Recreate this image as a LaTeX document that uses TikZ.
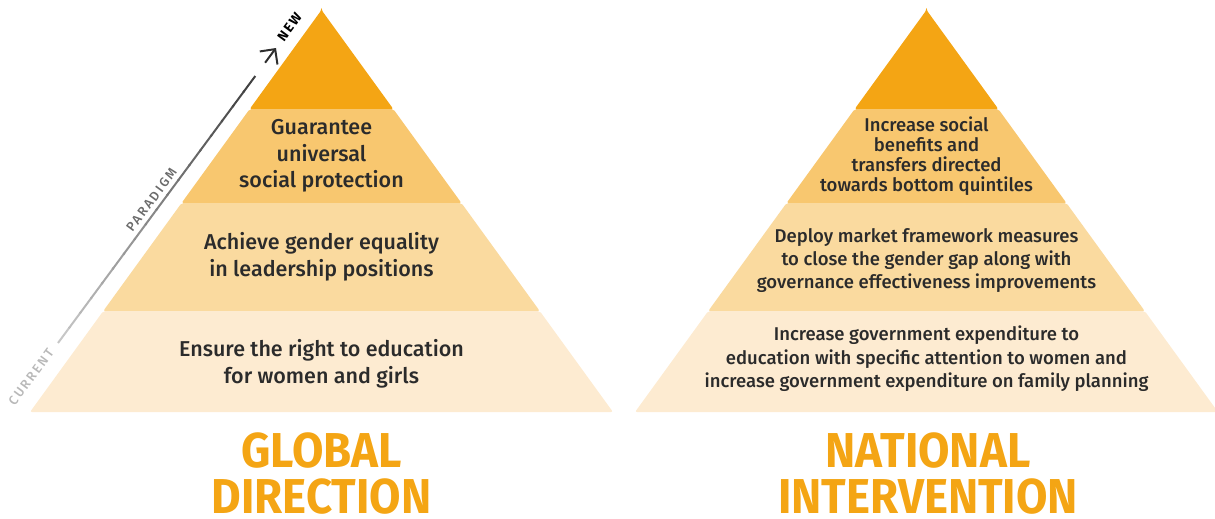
\documentclass[tikz,border=0pt]{standalone}
\usepackage{fontspec}
\setmainfont{Fira Sans}[UprightFont=* Medium, BoldFont=* Bold]
\usetikzlibrary{calc}
\usetikzlibrary{arrows.meta}

\definecolor{tierA}{HTML}{F4A514}
\definecolor{tierB}{HTML}{F8C76F}
\definecolor{tierC}{HTML}{FADA9F}
\definecolor{tierD}{HTML}{FDEBD1}
\definecolor{ink}{HTML}{2B2B2B}

\tikzset{
    tier/.style={rounded corners=2pt},
    bigtext/.style={align=center, text=ink, font=\fontsize{21.5}{26.5}\selectfont},
    smalltext/.style={align=center, text=ink, font=\fontsize{18.5}{#1}\selectfont},
    headline/.style={anchor=base, inner sep=0pt, text=tierA, font=\bfseries\fontsize{49}{49}\selectfont},
    axislabel/.style={rotate=53.5, inner sep=0pt, font=\fontsize{13}{13}\selectfont\addfontfeature{LetterSpace=16}},
}

\begin{document}
\begin{tikzpicture}[
        x=1pt, y=-1pt, >=latex,
    ]
    \useasboundingbox (0,0) rectangle (1215,519);

    \foreach \cx in {321.5, 926.5}
        \foreach \ya/\yb/\col in {10/109/tierA, 109/203/tierB, 203/311/tierC, 311/412/tierD}
            \fill[tier, fill=\col] ({\cx-0.725*(\ya-10)}, \ya) -- ({\cx+0.725*(\ya-10)}, \ya)
                -- ({\cx+0.725*(\yb-10)}, \yb) -- ({\cx-0.725*(\yb-10)}, \yb) -- cycle;

    \node[bigtext] (protect) at (321.5, 156) {Guarantee\\universal\\social protection};
    \node[bigtext] (leader) at (321.5, 257) {Achieve gender equality\\in leadership positions};
    \node[bigtext] (school) at (321.5, 364) {Ensure the right to education\\for women and girls};

    \node[smalltext=20] (benefit) at (926.5, 156) {Increase social\\benefits and\\transfers directed\\towards bottom quintiles};
    \node[smalltext=23] (market) at (926.5, 261) {Deploy market framework measures\\to close the gender gap along with\\governance effectiveness improvements};
    \node[smalltext=23.5] (spend) at (926.5, 359) {Increase government expenditure to\\education with specific attention to women and\\increase government expenditure on family planning};

    \node[headline] (global) at (321.5, 467) {\scalebox{0.93}[1]{GLOBAL}};
    \node[headline] (direction) at (321.5, 513) {\scalebox{0.93}[1]{DIRECTION}};
    \node[headline] (national) at (928, 467) {\scalebox{0.93}[1]{NATIONAL}};
    \node[headline] (intervention) at (928, 513) {\scalebox{0.93}[1]{INTERVENTION}};

    \coordinate (old) at (58, 343);
    \coordinate (new) at (276, 48);
    \foreach \t [evaluate=\t as \s using \t+0.055, evaluate=\t as \g using 22+62*\t] in {0, 0.05, ..., 0.9}
        \draw[line width=2pt, black!\g] ($(old)!\t!(new)$) -- ($(old)!\s!(new)$);
    \draw[line width=2pt, black!82, -{Straight Barb[length=11pt, width=22pt, line width=2pt]}]
        ($(old)!0.95!(new)$) -- (new);

    \node[axislabel, text=black!28] (current) at (31, 377) {CURRENT};
    \node[axislabel, text=black!58] (paradigm) at (151.5, 200) {PARADIGM};
    \node[axislabel, text=black, font=\bfseries\fontsize{13.5}{13.5}\selectfont\addfontfeature{LetterSpace=12}] (newlbl) at (289.5, 27) {NEW};
\end{tikzpicture}
\end{document}
